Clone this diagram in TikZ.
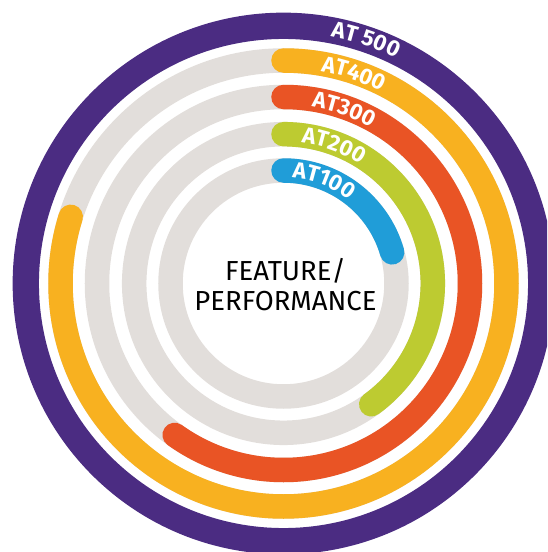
\documentclass[tikz,border=0pt]{standalone}
\usepackage{fontspec}
\setmainfont{Fira Sans}
\usetikzlibrary{decorations.text}

\definecolor{at500}{HTML}{4B2C82}
\definecolor{at400}{HTML}{F8B120}
\definecolor{at300}{HTML}{E95425}
\definecolor{at200}{HTML}{BDCB31}
\definecolor{at100}{HTML}{209DD8}
\definecolor{trackgrey}{HTML}{E2DEDB}

\newcommand\tagfont{\fontsize{22.5}{22.5}\selectfont\bfseries}
\newcommand\hubfont{\fontsize{27.5}{30}\selectfont}

\begin{document}
\begin{tikzpicture}[x=1pt,y=1pt,
	track/.style={draw=trackgrey,line width=24.5pt},
	band/.style={line width=24.5pt,line cap=round},
	tag/.style={decorate,decoration={text along path,text align=left,
		text color=white,text={|\tagfont|#1}}}]

\clip (-283.5,-268.5) rectangle (263.5,283.5);

% grey tracks
\foreach \r in {113,149.3,186.5,223}
	\draw[track] (0,0) circle[radius=\r pt];

% coloured rings
\draw[at500,line width=26.3pt] (0,0) circle[radius=257.7pt];
\draw[band,at400] (90:223pt)   arc[start angle=90,end angle=-197.4,radius=223pt];
\draw[band,at300] (90:186.5pt) arc[start angle=90,end angle=-125.7,radius=186.5pt];
\draw[band,at200] (90:149.3pt) arc[start angle=90,end angle=-54,radius=149.3pt];
\draw[band,at100] (90:113pt)   arc[start angle=90,end angle=16,radius=113pt];

% labels
\path[tag=AT 500] (79.2:251.5pt) arc[start angle=79.2,end angle=40,radius=251.5pt];
\path[tag=AT400]  (80:215.5pt)   arc[start angle=80,end angle=30,radius=215.5pt];
\path[tag=AT300]  (81:179pt)     arc[start angle=81,end angle=25,radius=179pt];
\path[tag=AT200]  (82.8:141.8pt) arc[start angle=82.8,end angle=20,radius=141.8pt];
\path[tag=AT100]  (85.3:106pt)   arc[start angle=85.3,end angle=0,radius=106pt];

\node[align=center,font=\hubfont] (hub) at (2,-1) {FEATURE/\\PERFORMANCE};

\end{tikzpicture}
\end{document}
